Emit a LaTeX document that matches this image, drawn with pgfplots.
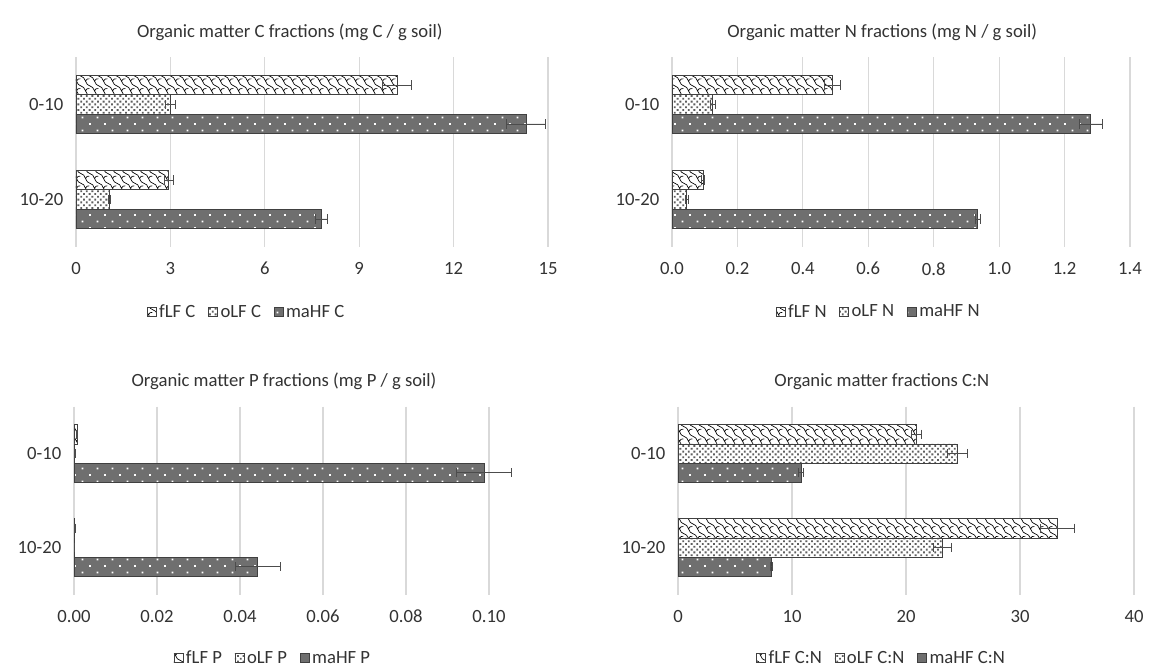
\documentclass[border=0pt]{standalone}
\usepackage{fontspec}
\setmainfont{Carlito}
\usepackage{pgfplots}
\usepackage{pgfplotstable}
\pgfplotsset{compat=1.18}
\usetikzlibrary{patterns}

\definecolor{gridgray}{HTML}{D9D9D9}
\definecolor{txt}{HTML}{333333}
\definecolor{mahf}{HTML}{6F6F6F}
\definecolor{edge}{HTML}{404040}
\definecolor{dotgray}{HTML}{5E5E5E}

\pgfdeclarepatternformonly{shingle}{\pgfqpoint{-1pt}{-1pt}}{\pgfqpoint{7.75pt}{8.3pt}}{\pgfqpoint{6.75pt}{7.3pt}}{%
  \pgfsetlinewidth{0.5pt}%
  \pgfpathmoveto{\pgfqpoint{0pt}{7.3pt}}%
  \pgfpathcurveto{\pgfqpoint{3.4pt}{7.3pt}}{\pgfqpoint{3.35pt}{0pt}}{\pgfqpoint{6.75pt}{0pt}}%
  \pgfpathmoveto{\pgfqpoint{3.375pt}{3.65pt}}%
  \pgfpathcurveto{\pgfqpoint{4.0pt}{5.2pt}}{\pgfqpoint{5.0pt}{5.6pt}}{\pgfqpoint{6.3pt}{5.4pt}}%
  \pgfusepath{stroke}%
}
\pgfdeclarepatternformonly{odots}{\pgfqpoint{-1pt}{-1pt}}{\pgfqpoint{5pt}{5pt}}{\pgfqpoint{4.2pt}{4.2pt}}{%
  \pgfpathrectangle{\pgfqpoint{-0.7pt}{-0.7pt}}{\pgfqpoint{1.4pt}{1.4pt}}%
  \pgfpathrectangle{\pgfqpoint{1.4pt}{1.4pt}}{\pgfqpoint{1.4pt}{1.4pt}}%
  \pgfusepath{fill}%
}
\pgfdeclarepatternformonly{wdots}{\pgfqpoint{-1pt}{-1pt}}{\pgfqpoint{12pt}{10pt}}{\pgfqpoint{11.25pt}{9.75pt}}{%
  \pgfpathrectangle{\pgfqpoint{-0.6pt}{-0.6pt}}{\pgfqpoint{1.2pt}{1.2pt}}%
  \pgfpathrectangle{\pgfqpoint{5.02pt}{4.27pt}}{\pgfqpoint{1.2pt}{1.2pt}}%
  \pgfusepath{fill}%
}

\newcommand{\fs}{\fontsize{14}{16}\selectfont}

\pgfplotsset{
  panel/.style={
    xbar, scale only axis, clip=false,
    y dir=reverse, ymin=-0.5, ymax=1.5,
    ytick={0,1}, yticklabels={0-10,10-20},
    bar width=0.205,
    axis line style={draw=none}, major tick length=0,
    xmajorgrids, grid style={color=gridgray, line width=0.8pt},
    /pgf/number format/assume math mode=true,
    tick label style={font=\fs, text=txt},
    xticklabel style={yshift=-8pt},
    yticklabel style={xshift=-6pt},
    title style={font=\fs, text=txt, yshift=3pt},
    legend style={draw=none, fill=none, legend columns=3, anchor=center, font=\fs, text=txt,
      /tikz/every even column/.append style={column sep=7.5pt}},
    legend image code/.code={\draw[##1, line width=0.5pt] (0pt,-3.4pt) rectangle (6.8pt,3.4pt);},
  },
  fLF/.style={draw=edge, line width=0.6pt, fill=white, postaction={pattern=shingle, pattern color=black}, bar shift=-0.205},
  oLF/.style={draw=edge, line width=0.6pt, fill=white, postaction={pattern=odots, pattern color=dotgray}, bar shift=0},
  maHF/.style={draw=edge, line width=0.6pt, fill=mahf, postaction={pattern=wdots, pattern color=white}, bar shift=0.205},
  errb/.style={error bars/.cd, x dir=both, x explicit, error mark={|},
    error bar style={line width=0.6pt, draw=black!70},
    error mark options={draw=black!70, mark size=3.5pt, line width=0.6pt}},
}

% Panel C
\pgfplotstableread{
c v e
0 10.2 0.45
1 2.95 0.15
}\fLFC
\pgfplotstableread{
c v e
0 3.0 0.15
1 1.05 0.03
}\oLFC
\pgfplotstableread{
c v e
0 14.3 0.62
1 7.8 0.2
}\maHFC
% Panel N
\pgfplotstableread{
c v e
0 0.49 0.025
1 0.095 0.005
}\fLFN
\pgfplotstableread{
c v e
0 0.125 0.008
1 0.045 0.004
}\oLFN
\pgfplotstableread{
c v e
0 1.28 0.035
1 0.935 0.008
}\maHFN
% Panel P
\pgfplotstableread{
c v e
0 0.0007 0.0001
1 0.0002 0.0001
}\fLFP
\pgfplotstableread{
c v e
0 0.0002 0.00005
1 0.0001 0.00005
}\oLFP
\pgfplotstableread{
c v e
0 0.0988 0.0067
1 0.0443 0.0055
}\maHFP
% Panel C:N
\pgfplotstableread{
c v e
0 20.9 0.45
1 33.3 1.5
}\fLFCN
\pgfplotstableread{
c v e
0 24.5 0.9
1 23.2 0.8
}\oLFCN
\pgfplotstableread{
c v e
0 10.8 0.2
1 8.2 0.12
}\maHFCN

\begin{document}
\begin{tikzpicture}
\path[use as bounding box] (0,0) rectangle (862.5pt,-502.5pt);

% Panel 1: C
\begin{axis}[panel, at={(57pt,-42.75pt)}, anchor=north west, width=354pt, height=142.5pt,
  xmin=0, xmax=15, xtick={0,3,6,9,12,15}, xticklabels={0,3,6,9,12,15},
  title={Organic matter C fractions (mg C / g soil)}, title style={at={(0.453,1)}},
  legend style={at={(0.362,-0.342)}}]
\addplot[fLF, errb] table[x=v, y=c, x error=e] {\fLFC};
\addplot[oLF, errb] table[x=v, y=c, x error=e] {\oLFC};
\addplot[maHF, errb] table[x=v, y=c, x error=e] {\maHFC};
\legend{fLF C, oLF C, maHF C}
\end{axis}

% Panel 2: N
\begin{axis}[panel, at={(504pt,-42.75pt)}, anchor=north west, width=343.5pt, height=142.5pt,
  xmin=0, xmax=1.4, xtick={0,0.2,0.4,0.6,0.8,1.0,1.2,1.4},
  xticklabels={0.0,0.2,0.4,0.6,0.8,1.0,1.2,1.4},
  title={Organic matter N fractions (mg N / g soil)}, title style={at={(0.459,1)}},
  legend style={at={(0.452,-0.342)}}]
\addplot[fLF, errb] table[x=v, y=c, x error=e] {\fLFN};
\addplot[oLF, errb] table[x=v, y=c, x error=e] {\oLFN};
\addplot[maHF, errb] table[x=v, y=c, x error=e] {\maHFN};
\legend{fLF N, oLF N, maHF N}
\end{axis}

% Panel 3: P
\begin{axis}[panel, at={(55.5pt,-304.9pt)}, anchor=north west, width=311.25pt, height=141pt,
  xmin=0, xmax=0.1, xtick={0,0.02,0.04,0.06,0.08,0.1},
  xticklabels={0.00,0.02,0.04,0.06,0.08,0.10},
  title={Organic matter P fractions (mg P / g soil)}, title style={at={(0.506,1)}},
  legend style={at={(0.48,-0.338)}}]
\addplot[fLF, errb] table[x=v, y=c, x error=e] {\fLFP};
\addplot[oLF, errb] table[x=v, y=c, x error=e] {\oLFP};
\addplot[maHF, errb] table[x=v, y=c, x error=e] {\maHFP};
\legend{fLF P, oLF P, maHF P}
\end{axis}

% Panel 4: C:N
\begin{axis}[panel, at={(508.5pt,-304.9pt)}, anchor=north west, width=342pt, height=141pt,
  xmin=0, xmax=40, xtick={0,10,20,30,40}, xticklabels={0,10,20,30,40},
  title={Organic matter fractions C:N}, title style={at={(0.447,1)}},
  legend style={at={(0.447,-0.338)}}]
\addplot[fLF, errb] table[x=v, y=c, x error=e] {\fLFCN};
\addplot[oLF, errb] table[x=v, y=c, x error=e] {\oLFCN};
\addplot[maHF, errb] table[x=v, y=c, x error=e] {\maHFCN};
\legend{fLF C:N, oLF C:N, maHF C:N}
\end{axis}
\end{tikzpicture}
\end{document}
